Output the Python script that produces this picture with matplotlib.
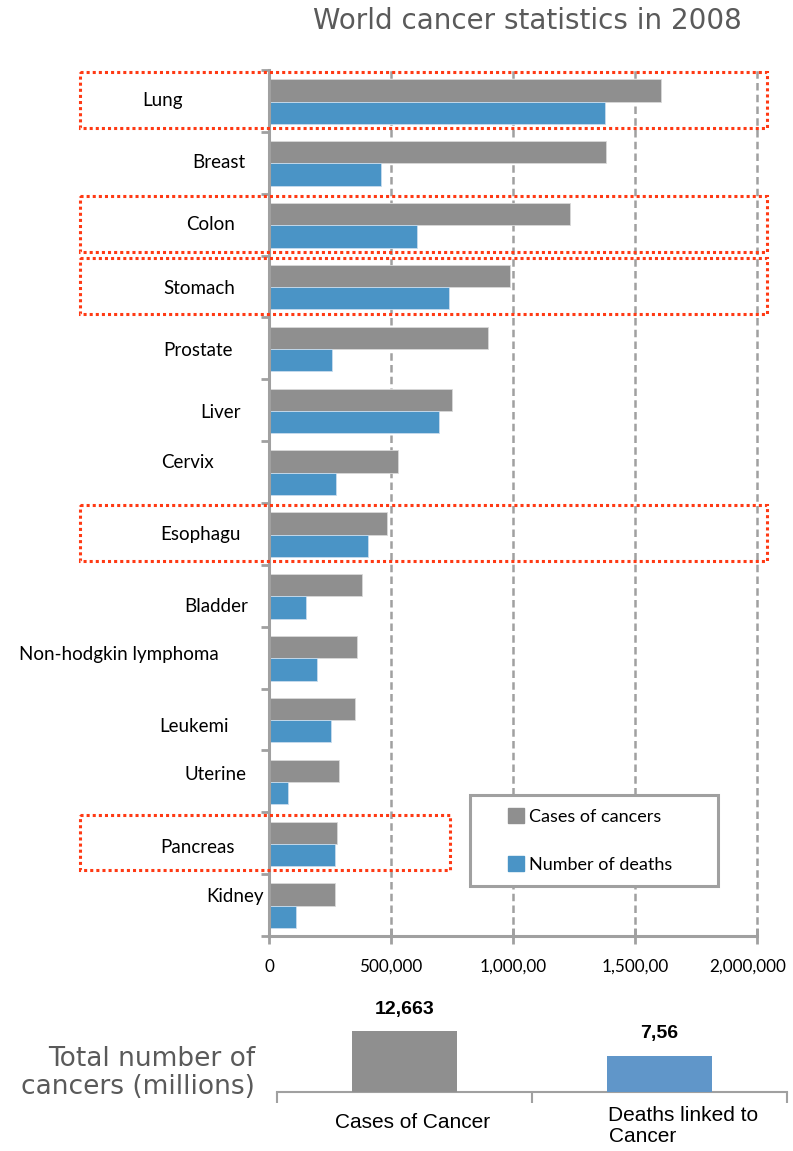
import numpy as np
import matplotlib
matplotlib.use('Agg')
import matplotlib.pyplot as plt
from matplotlib.patches import Rectangle, Patch
from matplotlib.transforms import blended_transform_factory, ScaledTranslation

cancers = ['Lung', 'Breast', 'Colon', 'Stomach', 'Prostate', 'Liver', 'Cervix',
           'Esophagu', 'Bladder', 'Non-hodgkin lymphoma', 'Leukemi', 'Uterine',
           'Pancreas', 'Kidney']
cases  = [1608000, 1383000, 1234000, 988000, 899000, 748000, 530000,
          482000, 383000, 361000, 352000, 287000, 279000, 272000]
deaths = [1378000, 458000, 608000, 737000, 258000, 695000, 275000,
          407000, 150000, 195000, 256000, 78000, 270000, 112000]
highlight = ['Lung', 'Colon', 'Stomach', 'Esophagu', 'Pancreas']

x_ticks       = [0, 500000, 1000000, 1500000, 2000000]
x_tick_labels = ['0', '500,000', '1,000,00', '1,500,00', '2,000,000']

total_labels = ['Cases of Cancer', 'Deaths linked to\nCancer']
total_values = [12.663, 7.56]
total_texts  = ['12,663', '7,56']

GRAY  = '#8f8f8f'
BLUE  = '#4a94c6'
BLUE2 = '#6096c9'
AXC   = '#a0a0a0'
W, H  = 793, 1151

# label placement tweaks (pixels) to mimic the hand-placed labels
label_cx = [163, 219, 211, 199, 198, 220, 188, 200, 216, 119, 194, 215, 197, 235]
label_dy = [0, 0, 0, 2, 2, 2, -10, 1, 11, -3, 7, -7, 4, -9]

plt.rcParams['font.family'] = ['Lato', 'DejaVu Sans']

fig = plt.figure(figsize=(W / 100, H / 100), dpi=100)
ax  = fig.add_axes([269 / W, 1 - 936 / H, 488 / W, 866 / H])

n    = len(cancers)
y    = np.arange(n)
band = 866 / n

ax.barh(y - 0.17, cases, height=0.36, color=GRAY, edgecolor='#d9d9d9', linewidth=0.6, zorder=3)
ax.barh(y + 0.19, deaths, height=0.36, color=BLUE, edgecolor='#c9dced', linewidth=0.6, zorder=3)

ax.set_xlim(0, 2000000)
ax.set_ylim(n - 0.5, -0.5)

for xv in x_ticks[1:]:
    ax.axvline(xv, color=AXC, lw=1.8, linestyle=(0, (3.0, 1.7)), zorder=1, clip_on=False)

for s in ['top', 'right']:
    ax.spines[s].set_visible(False)
for s in ['left', 'bottom']:
    ax.spines[s].set_color(AXC)
    ax.spines[s].set_linewidth(2.2)
    ax.spines[s].set_zorder(4)

ax.set_xticks(x_ticks)
ax.set_xticklabels(x_tick_labels, fontsize=12.3)
ax.tick_params(axis='x', direction='inout', length=11, width=2, color=AXC, pad=11)
# last label sits a bit left so it stays inside the picture
last = ax.get_xticklabels()[-1]
last.set_transform(last.get_transform() + ScaledTranslation(-9 / 100, 0, fig.dpi_scale_trans))

ax.set_yticks([])
ax.set_yticks(np.arange(-0.5, n), minor=True)
ax.tick_params(axis='y', which='minor', direction='out', length=6, width=2, color=AXC)

lbl_tr = blended_transform_factory(ax.transAxes, ax.transData)
for i, name in enumerate(cancers):
    ax.text((label_cx[i] - 269) / 488, i + label_dy[i] / band, name,
            transform=lbl_tr, ha='center', va='center', fontsize=13.5, color='black')

# red dotted highlight boxes
for name in highlight:
    i  = cancers.index(name)
    x0 = (80 - 269) / 488
    x1 = (767 - 269) / 488 if name != 'Pancreas' else (450 - 269) / 488
    ax.add_patch(Rectangle((x0, i - 0.46), x1 - x0, 0.90, transform=lbl_tr,
                           fill=False, edgecolor='#ff3a14', lw=2.2,
                           linestyle=(0, (1, 1)), clip_on=False, zorder=6))

# legend with its own frame
lx0, lx1 = (470 - 269) / 488, (718 - 269) / 488
ly0, ly1 = (936 - 886) / 866, (936 - 795) / 866
ax.add_patch(Rectangle((lx0, ly0), lx1 - lx0, ly1 - ly0, transform=ax.transAxes,
                       facecolor='white', edgecolor=AXC, lw=2.2, zorder=7))
handles = [Patch(color=GRAY, label='Cases of cancers'),
           Patch(color=BLUE, label='Number of deaths')]
leg = ax.legend(handles=handles, loc='center',
                bbox_to_anchor=((lx0 + lx1) / 2 - 0.008, (ly0 + ly1) / 2),
                frameon=False, fontsize=13, labelspacing=1.75,
                handlelength=0.9, handleheight=0.9, handletextpad=0.3)
leg.set_zorder(8)

fig.text(742 / W, 1 - 21 / H, 'World cancer statistics in 2008', ha='right', va='center',
         fontsize=20, color='#5a5a5a', family=['DejaVu Sans'])

# totals panel
bx = fig.add_axes([277 / W, 1 - 1092 / H, 510 / W, 92 / H])
bx.bar([0, 1], total_values, width=0.41, color=[GRAY, BLUE2], zorder=3)
bx.set_xlim(-0.5, 1.5)
bx.set_ylim(0, 19.1)
for s in ['top', 'right', 'left']:
    bx.spines[s].set_visible(False)
bx.spines['bottom'].set_color(AXC)
bx.spines['bottom'].set_linewidth(1.5)
bx.set_yticks([])
bx.set_xticks([-0.5, 0.5, 1.5])
bx.set_xticklabels([])
bx.tick_params(axis='x', direction='out', length=8, width=1.5, color=AXC)

for i, (v, t) in enumerate(zip(total_values, total_texts)):
    bx.text(i, v + 2.8, t, ha='center', va='bottom', fontsize=14, fontweight='bold',
            family=['Liberation Sans'])

btr = blended_transform_factory(bx.transData, bx.transAxes)
bx.text(0.03, -0.23, total_labels[0], transform=btr, ha='center', va='top',
        fontsize=15, family=['Liberation Sans'])
bx.text(0.80, -0.15, total_labels[1], transform=btr, ha='left', va='top',
        fontsize=15, family=['Liberation Sans'], linespacing=1.15)

fig.text(255 / W, 1 - 1073 / H, 'Total number of\ncancers (millions)', ha='right',
         va='center', fontsize=19, color='#5a5a5a', family=['DejaVu Sans'],
         linespacing=1.15)

fig.savefig('out.png', dpi=100)
plt.close(fig)
